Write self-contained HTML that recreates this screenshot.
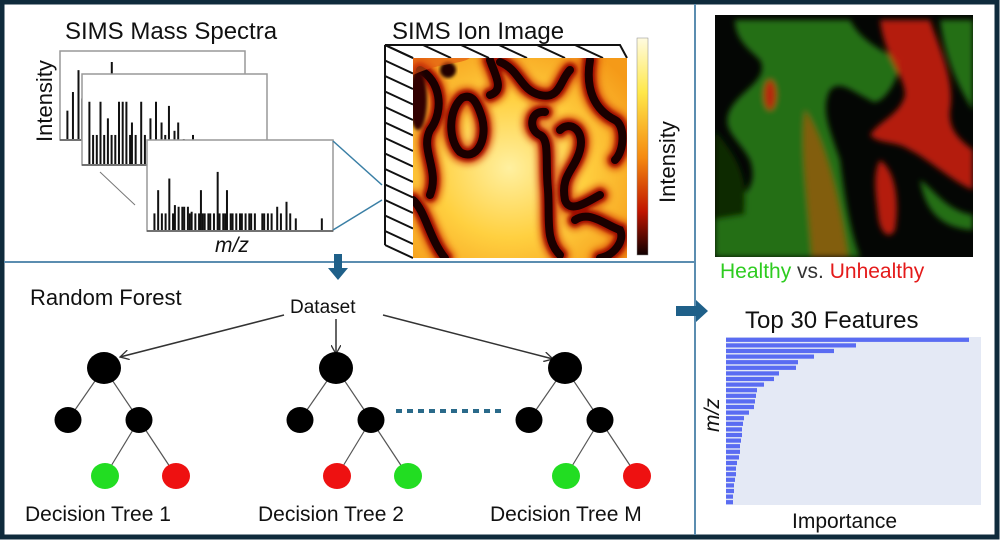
<!DOCTYPE html>
<html><head><meta charset="utf-8">
<style>
html,body{margin:0;padding:0;background:#fff;}
#root{position:relative;width:1000px;height:542px;overflow:hidden;font-family:"Liberation Sans",sans-serif;}
svg text{font-family:"Liberation Sans",sans-serif;}
</style></head>
<body>
<div id="root">
<svg id="fig" width="1000" height="542" viewBox="0 0 1000 542">
<defs>
  <filter id="blur4" x="-20%" y="-20%" width="140%" height="140%"><feGaussianBlur stdDeviation="3"/></filter>
  <filter id="blur2"><feGaussianBlur stdDeviation="1.5"/></filter>
  <linearGradient id="cbar" x1="0" y1="0" x2="0" y2="1">
    <stop offset="0" stop-color="#fffbe0"/><stop offset="0.25" stop-color="#ffe84a"/>
    <stop offset="0.55" stop-color="#f58a10"/><stop offset="0.8" stop-color="#c01500"/>
    <stop offset="1" stop-color="#100000"/>
  </linearGradient>
  <radialGradient id="ionbase" cx="0.45" cy="0.55" r="0.7">
    <stop offset="0" stop-color="#fff0a0"/><stop offset="0.5" stop-color="#ffd040"/><stop offset="1" stop-color="#f59a18"/>
  </radialGradient>
  <clipPath id="ionclip"><rect x="413" y="58" width="214" height="200"/></clipPath>
  <clipPath id="rgclip"><rect x="715" y="15" width="258" height="242"/></clipPath>
  <marker id="arr" markerWidth="10" markerHeight="10" refX="9" refY="5" orient="auto" markerUnits="userSpaceOnUse">
    <path d="M0,0 L9,5 L0,10" fill="none" stroke="#333" stroke-width="1.3"/>
  </marker>
</defs>

<rect x="2" y="2" width="995" height="535" fill="none" stroke="#0f2b3c" stroke-width="5"/>
<line x1="695" y1="4" x2="695" y2="535" stroke="#5b8db0" stroke-width="2"/>
<line x1="4" y1="262" x2="695" y2="262" stroke="#5b8db0" stroke-width="2"/>

<text x="65" y="39" font-size="24" fill="#111">SIMS Mass Spectra</text>
<text x="392" y="39" font-size="24" fill="#111">SIMS Ion Image</text>
<text transform="translate(52,142) rotate(-90)" font-size="22" fill="#111">Intensity</text>
<text x="215" y="252" font-size="21" font-style="italic" fill="#111">m/z</text>

<g id="spectra"></g>

<line x1="333" y1="141" x2="382" y2="185" stroke="#3a7fa5" stroke-width="1.5"/>
<line x1="333" y1="230" x2="382" y2="200" stroke="#3a7fa5" stroke-width="1.5"/>
<line x1="100" y1="172" x2="135" y2="205" stroke="#777" stroke-width="1"/>

<g id="hatch" stroke="#111" stroke-width="2" fill="none">
  <polyline points="413,58 385,45 620,45 627,58"/>
  <line x1="385" y1="45" x2="385" y2="245"/>
  <line x1="385" y1="245" x2="413" y2="258"/>
</g>
<g clip-path="url(#ionclip)">
  <rect x="413" y="58" width="214" height="200" fill="url(#ionbase)"/>
  <g id="ionlines">
  <g fill="none" stroke="#d03000" stroke-width="22" stroke-linecap="round" opacity="0.55" filter="url(#blur4)" class="ionpaths"></g>
  <g fill="none" stroke="#a01000" stroke-width="14" stroke-linecap="round" filter="url(#blur2)" class="ionpaths"></g>
  <g fill="none" stroke="#1a0000" stroke-width="8" stroke-linecap="round" class="ionpaths"></g>
  </g>
  <ellipse cx="448" cy="70" rx="8" ry="8" fill="#200" filter="url(#blur2)"/>
  <ellipse cx="418" cy="100" rx="9" ry="30" fill="#300" filter="url(#blur2)"/>
  <path d="M413,58 L470,58 C460,65 440,62 413,75 Z" fill="#e05010" opacity="0.6"/>
</g>
<rect x="637" y="38" width="11" height="217" fill="url(#cbar)" stroke="#888" stroke-width="0.5"/>
<text transform="translate(675,203) rotate(-90)" font-size="22" fill="#111">Intensity</text>

<path d="M334,254 L342,254 L342,268 L348,268 L338,280 L328,268 L334,268 Z" fill="#1f6089"/>
<path d="M676,306 L696,306 L696,300 L708,311 L696,322 L696,316 L676,316 Z" fill="#1f6089"/>

<text x="30" y="305" font-size="22" fill="#111">Random Forest</text>
<text x="290" y="313" font-size="19" fill="#111">Dataset</text>
<g stroke="#333" stroke-width="1.5">
  <line x1="284" y1="315" x2="120" y2="357" marker-end="url(#arr)"/>
  <line x1="336" y1="319" x2="336" y2="354" marker-end="url(#arr)"/>
  <line x1="383" y1="315" x2="553" y2="359" marker-end="url(#arr)"/>
</g>
<g id="trees"></g>
<line x1="396" y1="411" x2="505" y2="411" stroke="#2a6a8a" stroke-width="4" stroke-dasharray="6,5"/>

<g clip-path="url(#rgclip)">
  <rect x="715" y="15" width="258" height="242" fill="#040604"/>
  <g filter="url(#blur4)">
    <g fill="#2a8216" opacity="0.85">
      <path d="M735,20 L850,20 C860,40 880,50 900,60 C900,80 880,110 870,100 C850,90 840,80 830,90 C820,110 830,130 840,160 C845,200 850,230 860,257 L715,257 L715,215 C740,200 760,190 750,160 C740,140 720,130 730,110 C740,90 770,80 760,60 C750,50 735,40 735,20 Z"/>
      <path d="M940,20 L973,20 L973,110 C960,90 945,60 940,20 Z"/>
      <path d="M920,180 C935,190 945,210 973,215 L973,230 C940,228 925,210 920,180 Z"/>
    </g>
    <path d="M715,130 C730,150 750,170 745,215 L715,220 Z" fill="#0a2a06"/>
    <g fill="#c81c0a" opacity="0.9">
      <path d="M880,20 L930,20 C940,50 955,80 950,110 C948,130 960,140 973,150 L973,190 C950,180 930,160 910,150 C895,140 880,145 870,135 C880,120 900,115 905,95 C905,75 885,60 880,20 Z"/>
      <path d="M880,160 C895,170 900,200 895,230 C890,240 880,235 878,215 C876,195 872,175 880,160 Z"/>
      <ellipse cx="770" cy="95" rx="6" ry="15"/>
    </g>
    <path d="M805,110 C825,140 840,200 848,257 L812,257 C808,200 800,150 805,110 Z" fill="#9a5a10" opacity="0.8"/>
  </g>
</g>
<text x="720" y="278" font-size="21"><tspan fill="#2ecc20">Healthy</tspan><tspan fill="#333"> vs. </tspan><tspan fill="#e41a1a">Unhealthy</tspan></text>

<text x="745" y="328" font-size="24" fill="#111">Top 30 Features</text>
<g id="features"></g>
<text transform="translate(719,432) rotate(-90)" font-size="21" font-style="italic" fill="#111">m/z</text>
<text x="792" y="528" font-size="21" fill="#111">Importance</text>
</svg>
</div>
<script>
const featureRanks = Array.from({length:30},(_,i)=>i+1);
const importanceValues = [243,130,108,88,72,70,53,48,38,31,30,29,28,23,18,17,16,16,15,14,14,13,11,10,10,9,8,8,7,7];
const importanceMax = 255;

const spectrumFrontMz = [0.04,0.06,0.08,0.1,0.12,0.14,0.15,0.17,0.19,0.2,0.22,0.23,0.24,0.26,0.28,0.29,0.3,0.31,0.33,0.34,0.36,0.38,0.39,0.41,0.42,0.43,0.45,0.46,0.48,0.5,0.51,0.53,0.55,0.56,0.58,0.62,0.63,0.65,0.67,0.7,0.72,0.75,0.77,0.8,0.94];
const spectrumFrontInt = [0.2,0.48,0.2,0.2,0.62,0.2,0.3,0.28,0.28,0.28,0.28,0.2,0.22,0.2,0.2,0.48,0.2,0.2,0.2,0.2,0.2,0.7,0.2,0.2,0.2,0.48,0.2,0.2,0.2,0.2,0.2,0.2,0.2,0.2,0.2,0.2,0.2,0.2,0.2,0.28,0.2,0.34,0.2,0.14,0.14];
const spectrumMidMz = [0.04,0.06,0.08,0.1,0.12,0.14,0.16,0.18,0.2,0.22,0.24,0.26,0.27,0.29,0.32,0.34,0.37,0.4,0.43,0.45,0.47,0.5,0.52,0.55,0.6];
const spectrumMidInt = [0.75,0.35,0.35,0.75,0.35,0.55,0.35,0.35,0.75,0.75,0.75,0.35,0.5,0.35,0.75,0.35,0.55,0.75,0.5,0.35,0.7,0.4,0.5,0.3,0.35];
const spectrumBackMz = [0.04,0.07,0.1,0.12,0.28];
const spectrumBackInt = [0.35,0.58,0.85,0.5,0.95];

const NS='http://www.w3.org/2000/svg';
function mk(tag, attrs, parent){const e=document.createElementNS(NS,tag);for(const k in attrs)e.setAttribute(k,attrs[k]);parent.appendChild(e);return e;}

const fg=document.getElementById('features');
const px0=726, px1=981, py0=337, py1=505;
const xScale=v=>px0+(v/importanceMax)*(px1-px0);
const bandH=(py1-py0)/featureRanks.length;
const yScale=r=>py0+(r-1)*bandH;
const bg=mk('rect',{x:px0,y:py0,width:px1-px0,height:py1-py0,fill:'#e4e9f5'},fg);


featureRanks.forEach((r,i)=>{
  const b=mk('rect',{x:px0,y:yScale(r)+0.7,width:xScale(importanceValues[i])-px0,height:bandH-1.4,fill:'#5a6cf2'},fg);
  
  
});

const sg=document.getElementById('spectra');
function spectrum(x,y,w,h,mz,inten,name){
  const g=mk('g',{},sg);
  
  
  mk('rect',{x:x,y:y,width:w,height:h,fill:'#fff',stroke:'#999','stroke-width':1.5},g);
  mz.forEach((m,i)=>{
    const lx=x+m*w, base=y+h-1;
    const l=mk('line',{x1:lx,y1:base,x2:lx,y2:base-inten[i]*(h-8),stroke:'#111','stroke-width':2},g);
    
    
  });
  mk('line',{x1:x,y1:y+h,x2:x+w,y2:y+h,stroke:'#555','stroke-width':1.5},g);
}
spectrum(60,51,185,89,spectrumBackMz,spectrumBackInt,'spectrum-back');
spectrum(82,74,185,91,spectrumMidMz,spectrumMidInt,'spectrum-middle');
spectrum(147,140,186,91,spectrumFrontMz,spectrumFrontInt,'spectrum-front');

const hg=document.getElementById('hatch');
for(let i=0;i<13;i++){const yy=58+i*15.5;mk('line',{x1:385,y1:yy-13,x2:413,y2:yy},hg);}
for(let i=0;i<6;i++){const xx=413+i*38;mk('line',{x1:xx-28,y1:45,x2:xx,y2:58},hg);}

const ionPaths=["M420,70 C440,80 445,110 430,130 C420,150 440,170 430,195",
"M462,98 C448,110 448,140 460,152 C476,162 488,140 482,118 C476,98 470,94 462,98",
"M500,62 C520,70 520,90 540,95 C560,100 560,80 570,70",
"M545,112 C530,110 528,130 540,135 C550,140 545,160 548,190 C550,220 545,240 560,255",
"M560,130 C570,120 585,130 580,150 C575,170 560,175 565,200 C570,215 590,200 600,195",
"M590,60 C585,90 595,110 615,120 C625,125 625,150 615,160",
"M575,220 C590,210 605,225 620,230 C625,240 615,255 600,258",
"M490,60 C495,75 505,90 490,95",
"M413,200 C425,210 430,240 445,258"];
document.querySelectorAll('.ionpaths').forEach(g=>ionPaths.forEach(d=>mk('path',{d:d},g)));

const tg=document.getElementById('trees');
const treeRootsX=[104,336,565];
const treeLabels=['Decision Tree 1','Decision Tree 2','Decision Tree M'];
const treeLeafColors=[['#22dd22','#ee1111'],['#ee1111','#22dd22'],['#22dd22','#ee1111']];
treeRootsX.forEach((rx,t)=>{
  const g=mk('g',{},tg);
  
  
  const L=[rx-36,420],R=[rx+35,420],LL=[rx+1,476],LR=[rx+72,476];
  [[[rx,368],L],[[rx,368],R],[R,LL],[R,LR]].forEach(([a,b])=>mk('line',{x1:a[0],y1:a[1],x2:b[0],y2:b[1],stroke:'#555','stroke-width':1.2},g));
  mk('ellipse',{cx:rx,cy:368,rx:17,ry:16,fill:'#000'},g);
  mk('ellipse',{cx:L[0],cy:L[1],rx:13.5,ry:13,fill:'#000'},g);
  mk('ellipse',{cx:R[0],cy:R[1],rx:13.5,ry:13,fill:'#000'},g);
  mk('ellipse',{cx:LL[0],cy:LL[1],rx:14,ry:13,fill:treeLeafColors[t][0]},g);
  mk('ellipse',{cx:LR[0],cy:LR[1],rx:14,ry:13,fill:treeLeafColors[t][1]},g);
  const tx=mk('text',{x:[25,258,490][t],y:521,'font-size':21,fill:'#111'},g);
  tx.textContent=treeLabels[t];
  
  
});
</script>
</body></html>
